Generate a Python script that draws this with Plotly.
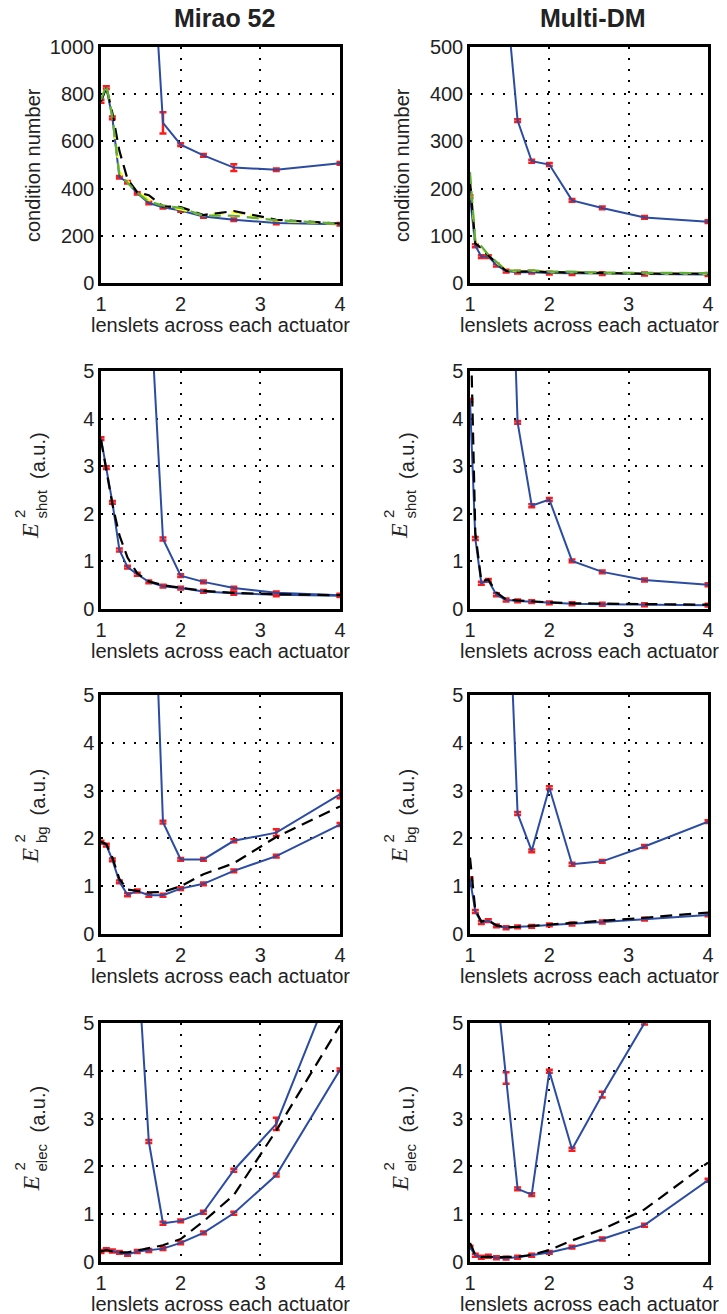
import plotly.graph_objects as go

# ---------------- data ----------------
X = [1.0, 1.067, 1.143, 1.231, 1.333, 1.455, 1.6, 1.778, 2.0, 2.286, 2.667, 3.2, 4.0]
X_from_1333 = X[4:]
X_from_1455 = X[5:]
X_from_16 = X[6:]

X_TICKS = [1, 2, 3, 4]
COND_M_TICKS = [0, 200, 400, 600, 800, 1000]
COND_MM_TICKS = [0, 100, 200, 300, 400, 500]
E_TICKS = [0, 1, 2, 3, 4, 5]

# Mirao 52 - condition number
m_cond_low = [770, 828, 700, 448, 427, 380, 339, 321, 307, 282, 268, 254, 249]
m_cond_low_err = [6, 6, 6, 5, 5, 5, 5, 5, 5, 5, 5, 5, 5]
m_cond_high = [1665, 679, 586, 541, 489, 480, 507]
m_cond_high_err = [10, 45, 6, 6, 14, 5, 6]
m_cond_black = [770, 830, 720, 560, 440, 385, 372, 325, 322, 288, 305, 268, 252]
m_cond_yellow = [775, 835, 710, 470, 432, 388, 352, 326, 312, 287, 300, 264, 250]
m_cond_green = [775, 840, 705, 460, 425, 382, 345, 328, 318, 286, 285, 266, 252]

# Multi-DM - condition number
mm_cond_low = [183, 79, 56, 56, 38, 25, 23, 23, 21, 20, 20, 19, 18]
mm_cond_low_err = [3] * 13
mm_cond_high = [610, 344, 258, 251, 175, 159, 139, 130]
mm_cond_high_err = [3] * 8
mm_cond_black = [215, 84, 74, 58, 43, 26, 24, 25, 23, 22, 21, 20, 20]
mm_cond_yellow = [225, 86, 76, 58, 44, 27, 25, 26, 23, 23, 21, 21, 20]
mm_cond_green = [235, 90, 78, 60, 45, 27, 26, 27, 24, 24, 22, 21, 21]

# Mirao 52 - E2 shot
m_shot_low = [3.58, 2.97, 2.24, 1.24, 0.88, 0.73, 0.57, 0.48, 0.44, 0.37, 0.33, 0.30, 0.28]
m_shot_high = [7.0, 1.47, 0.70, 0.57, 0.44, 0.34, 0.29]
m_shot_black = [3.55, 2.95, 2.2, 1.55, 1.08, 0.75, 0.58, 0.5, 0.45, 0.38, 0.34, 0.31, 0.29]

# Multi-DM - E2 shot
mm_shot_low = [4.38, 1.48, 0.54, 0.60, 0.30, 0.19, 0.17, 0.155, 0.13, 0.11, 0.10, 0.09, 0.08]
mm_shot_high = [11.2, 3.92, 2.17, 2.30, 1.01, 0.78, 0.61, 0.51]
mm_shot_black = [6.5, 1.6, 0.58, 0.62, 0.35, 0.2, 0.18, 0.16, 0.14, 0.12, 0.11, 0.1, 0.09]

# Mirao 52 - E2 bg
m_bg_low = [1.92, 1.86, 1.55, 1.09, 0.82, 0.90, 0.81, 0.81, 0.95, 1.05, 1.32, 1.63, 2.29]
m_bg_high = [10.5, 2.34, 1.56, 1.56, 1.95, 2.12, 2.92]
m_bg_high_err = [0.03, 0.03, 0.03, 0.03, 0.03, 0.07, 0.08]
m_bg_black = [1.93, 1.88, 1.6, 1.15, 0.93, 0.90, 0.87, 0.88, 1.0, 1.25, 1.48, 2.03, 2.67]

# Multi-DM - E2 bg
mm_bg_low = [1.15, 0.47, 0.24, 0.28, 0.17, 0.13, 0.15, 0.16, 0.19, 0.21, 0.25, 0.31, 0.40]
mm_bg_high = [8.5, 2.52, 1.74, 3.06, 1.46, 1.52, 1.83, 2.35]
mm_bg_black = [1.6, 0.5, 0.26, 0.29, 0.18, 0.14, 0.15, 0.17, 0.2, 0.23, 0.28, 0.34, 0.45]

# Mirao 52 - E2 elec
m_elec_low = [0.22, 0.26, 0.23, 0.20, 0.16, 0.22, 0.24, 0.28, 0.40, 0.61, 1.02, 1.82, 4.02]
m_elec_high = [6.5, 2.52, 0.81, 0.86, 1.04, 1.92, 2.89, 6.22]
m_elec_high_err = [0.03, 0.03, 0.03, 0.03, 0.03, 0.03, 0.13, 0.03]
m_elec_black = [0.22, 0.25, 0.22, 0.2, 0.2, 0.24, 0.28, 0.35, 0.48, 0.85, 1.4, 2.75, 4.95]

# Multi-DM - E2 elec
mm_elec_low = [0.31, 0.14, 0.10, 0.12, 0.09, 0.08, 0.10, 0.14, 0.20, 0.31, 0.48, 0.77, 1.71]
mm_elec_high = [5.8, 3.85, 1.53, 1.41, 3.99, 2.36, 3.50, 5.0, 9.0]
mm_elec_high_err = [0.03, 0.12, 0.03, 0.03, 0.03, 0.03, 0.06, 0.03, 0.03]
mm_elec_black = [0.4, 0.15, 0.1, 0.11, 0.1, 0.1, 0.11, 0.15, 0.25, 0.45, 0.68, 1.1, 2.08]

SMALL_E_ERR = 0.03

# ---------------- styling ----------------
W, H = 727, 1314
BLUE = "#2c4ca2"
RED = "#ff1a1a"
GREEN = "#5fae3a"
YELLOW = "#ffff00"
FONT = "Liberation Sans, Arial, Helvetica, sans-serif"
SERIF = "Liberation Serif, Times New Roman, serif"
TXT = "#222222"

COLS = [(101, 340), (470, 708)]
ROWS = [(47, 283), (371, 609), (695, 934), (1023, 1262)]

fig = go.Figure()
layout = dict(template="none", width=W, height=H, margin=dict(l=0, r=0, t=0, b=0, pad=0),
              paper_bgcolor="white", plot_bgcolor="white", showlegend=False)


def px_x(p):
    return p / W


def px_y(p):
    return 1 - p / H


axis_idx = 0
axis_map = {}
for r in range(4):
    for c in range(2):
        axis_idx += 1
        axis_map[(r, c)] = axis_idx
        x0, x1 = COLS[c]
        y0, y1 = ROWS[r]
        if r == 0:
            yr = [0, 1000] if c == 0 else [0, 500]
            yt = COND_M_TICKS if c == 0 else COND_MM_TICKS
        else:
            yr = [0, 5]
            yt = E_TICKS
        sfx = "" if axis_idx == 1 else str(axis_idx)
        common = dict(showline=True, mirror=True, linecolor="black", linewidth=2.5,
                      showgrid=True, gridcolor="black", gridwidth=1.5, griddash="2px,9px",
                      zeroline=False, ticks="", automargin=False,
                      tickfont=dict(family=FONT, size=20, color=TXT))
        layout["xaxis" + sfx] = dict(common, domain=[px_x(x0), px_x(x1)], range=[1, 4],
                                     tickvals=X_TICKS, anchor="y" + sfx, ticklabelstandoff=1)
        layout["yaxis" + sfx] = dict(common, domain=[px_y(y1), px_y(y0)], range=yr,
                                     tickvals=yt, anchor="x" + sfx, ticklabelstandoff=0)


def add_blue(r, c, xs, ys, errs):
    i = axis_map[(r, c)]
    sfx = "" if i == 1 else str(i)
    fig.add_trace(go.Scatter(x=xs, y=ys, mode="lines", line=dict(color=BLUE, width=2),
                             error_y=dict(type="data", array=errs, color=RED, thickness=2.5, width=3.5),
                             xaxis="x" + sfx, yaxis="y" + sfx, hoverinfo="skip"))


def add_dash(r, c, xs, ys, color):
    i = axis_map[(r, c)]
    sfx = "" if i == 1 else str(i)
    fig.add_trace(go.Scatter(x=xs, y=ys, mode="lines",
                             line=dict(color=color, width=2.2, dash="12px,7px"),
                             xaxis="x" + sfx, yaxis="y" + sfx, hoverinfo="skip"))


# Row 1: condition number
add_blue(0, 0, X, m_cond_low, m_cond_low_err)
add_blue(0, 0, X_from_16, m_cond_high, m_cond_high_err)
add_dash(0, 0, X, m_cond_yellow, YELLOW)
add_dash(0, 0, X, m_cond_black, "black")
add_dash(0, 0, X, m_cond_green, GREEN)

add_blue(0, 1, X, mm_cond_low, mm_cond_low_err)
add_blue(0, 1, X_from_1455, mm_cond_high, mm_cond_high_err)
add_dash(0, 1, X, mm_cond_yellow, YELLOW)
add_dash(0, 1, X, mm_cond_black, "black")
add_dash(0, 1, X, mm_cond_green, GREEN)

# Row 2: shot
add_blue(1, 0, X, m_shot_low, [SMALL_E_ERR] * len(X))
add_blue(1, 0, X_from_16, m_shot_high, [SMALL_E_ERR] * len(X_from_16))
add_dash(1, 0, X, m_shot_black, "black")

add_blue(1, 1, X, mm_shot_low, [SMALL_E_ERR] * len(X))
add_blue(1, 1, X_from_1455, mm_shot_high, [SMALL_E_ERR] * len(X_from_1455))
add_dash(1, 1, X, mm_shot_black, "black")

# Row 3: bg
add_blue(2, 0, X, m_bg_low, [SMALL_E_ERR] * len(X))
add_blue(2, 0, X_from_16, m_bg_high, m_bg_high_err)
add_dash(2, 0, X, m_bg_black, "black")

add_blue(2, 1, X, mm_bg_low, [SMALL_E_ERR] * len(X))
add_blue(2, 1, X_from_1455, mm_bg_high, [SMALL_E_ERR] * len(X_from_1455))
add_dash(2, 1, X, mm_bg_black, "black")

# Row 4: elec
add_blue(3, 0, X, m_elec_low, [SMALL_E_ERR] * len(X))
add_blue(3, 0, X_from_1455, m_elec_high, m_elec_high_err)
add_dash(3, 0, X, m_elec_black, "black")

add_blue(3, 1, X, mm_elec_low, [SMALL_E_ERR] * len(X))
add_blue(3, 1, X_from_1333, mm_elec_high, mm_elec_high_err)
add_dash(3, 1, X, mm_elec_black, "black")

# ---------------- text ----------------
anns = []


def ann(text, x, y, size, family=FONT, angle=0, xanchor="center", yanchor="middle", color=TXT):
    anns.append(dict(text=text, x=px_x(x), y=px_y(y), xref="paper", yref="paper",
                     showarrow=False, textangle=angle, xanchor=xanchor, yanchor=yanchor,
                     font=dict(family=family, size=size, color=color)))


ann("<b>Mirao 52</b>", 224, 18, 25)
ann("<b>Multi-DM</b>", 593, 18, 25)

for r in range(4):
    for c in range(2):
        x0, x1 = COLS[c]
        y0, y1 = ROWS[r]
        ann("lenslets across each actuator", (x0 + x1) / 2, y1 + 42, 20)

ROW_CENTERS = [165, 490, 814.5, 1142.5]
COL_OFF = [0, 369]
for c in range(2):
    ann("condition number", 33 + COL_OFF[c], ROW_CENTERS[0], 20, angle=-90)

SUBS = ["shot", "bg", "elec"]
SUB_LEN = {"shot": 29, "bg": 17, "elec": 28}
for ri, sub in enumerate(SUBS):
    r = ri + 1
    for c in range(2):
        off = COL_OFF[c]
        ey = ROW_CENTERS[r] + 41
        ann("<i>E</i>", 30 + off, ey, 24, family=SERIF, angle=-90)
        ann("2", 19 + off, ey - 17, 15, angle=-90)
        ann(sub, 41 + off, ey - 10, 15, angle=-90, yanchor="bottom")
        ann("(a.u.)", 37.5 + off, ey - 10 - SUB_LEN[sub] - 11, 20, angle=-90, yanchor="bottom")

layout["annotations"] = anns
fig.update_layout(**layout)
fig.write_html("out.html", config={"displayModeBar": False},
               post_script="document.body.style.margin='0px';document.body.style.padding='0px';")
